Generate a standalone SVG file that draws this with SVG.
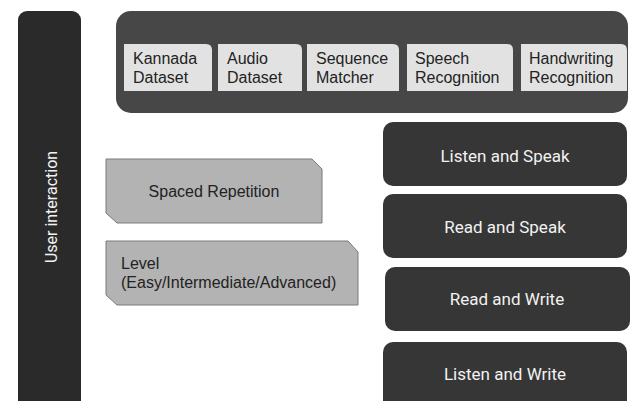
<svg xmlns="http://www.w3.org/2000/svg" width="633" height="401" viewBox="0 0 633 401">
<style>
.lbl{font-family:"Liberation Sans",Arial,sans-serif;font-size:16px;fill:#222}
.wht{font-family:Roboto,"Liberation Sans",sans-serif;font-size:17px;fill:#f2f2f2;text-anchor:middle}
.dark{fill:#363636}
.light{fill:#e2e2e2}
.gray{fill:#b3b3b3;stroke:#7a7a7a;stroke-width:1}
</style>
<rect width="633" height="401" fill="#ffffff"/>
<g id="user-interaction">
<rect x="18" y="11" width="63" height="400" rx="9" fill="#2a2a2a"/>
<text class="wht" style="font-size:16px" transform="translate(57,207) rotate(-90)">User interaction</text>
</g>
<g id="modules">
<rect x="116" y="11" width="512" height="102" rx="15" fill="#474747"/>
<g id="kannada-dataset">
<path class="light" d="M124,44 H206 Q212,44 212,50 V91 H124 Z"/>
<text class="lbl" x="133" y="64">Kannada</text><text class="lbl" x="133" y="83">Dataset</text>
</g>
<g id="audio-dataset">
<path class="light" d="M218,44 H296 Q302,44 302,50 V91 H218 Z"/>
<text class="lbl" x="227" y="64">Audio</text><text class="lbl" x="227" y="83">Dataset</text>
</g>
<g id="sequence-matcher">
<path class="light" d="M307,44 H393 Q399,44 399,50 V91 H307 Z"/>
<text class="lbl" x="316" y="64">Sequence</text><text class="lbl" x="316" y="83">Matcher</text>
</g>
<g id="speech-recognition">
<path class="light" d="M407,44 H507 Q513,44 513,50 V91 H407 Z"/>
<text class="lbl" x="415" y="64">Speech</text><text class="lbl" x="415" y="83">Recognition</text>
</g>
<g id="handwriting-recognition">
<path class="light" d="M521,44 H621 Q627,44 627,50 V91 H521 Z"/>
<text class="lbl" x="529" y="64">Handwriting</text><text class="lbl" x="529" y="83">Recognition</text>
</g>
</g>
<g id="spaced-repetition">
<polygon class="gray" points="106,159 312,159 322,169 322,223 117,223 106,213"/>
<text class="lbl" x="214" y="197" text-anchor="middle">Spaced Repetition</text>
</g>
<g id="level">
<polygon class="gray" points="106,241 348,241 358,252 358,305 117,305 106,295"/>
<text class="lbl" x="121" y="269">Level</text>
<text class="lbl" x="121" y="288">(Easy/Intermediate/Advanced)</text>
</g>
<g id="listen-and-speak">
<rect class="dark" x="383" y="122" width="244" height="64" rx="10"/>
<text class="wht" x="505" y="162">Listen and Speak</text>
</g>
<g id="read-and-speak">
<rect class="dark" x="383" y="194" width="244" height="64" rx="10"/>
<text class="wht" x="505" y="233">Read and Speak</text>
</g>
<g id="read-and-write">
<rect class="dark" x="385" y="267" width="245" height="64" rx="10"/>
<text class="wht" x="507" y="305">Read and Write</text>
</g>
<g id="listen-and-write">
<rect class="dark" x="383" y="342" width="244" height="70" rx="10"/>
<text class="wht" x="505" y="380">Listen and Write</text>
</g>
<g id="connectors"></g>
</svg>
